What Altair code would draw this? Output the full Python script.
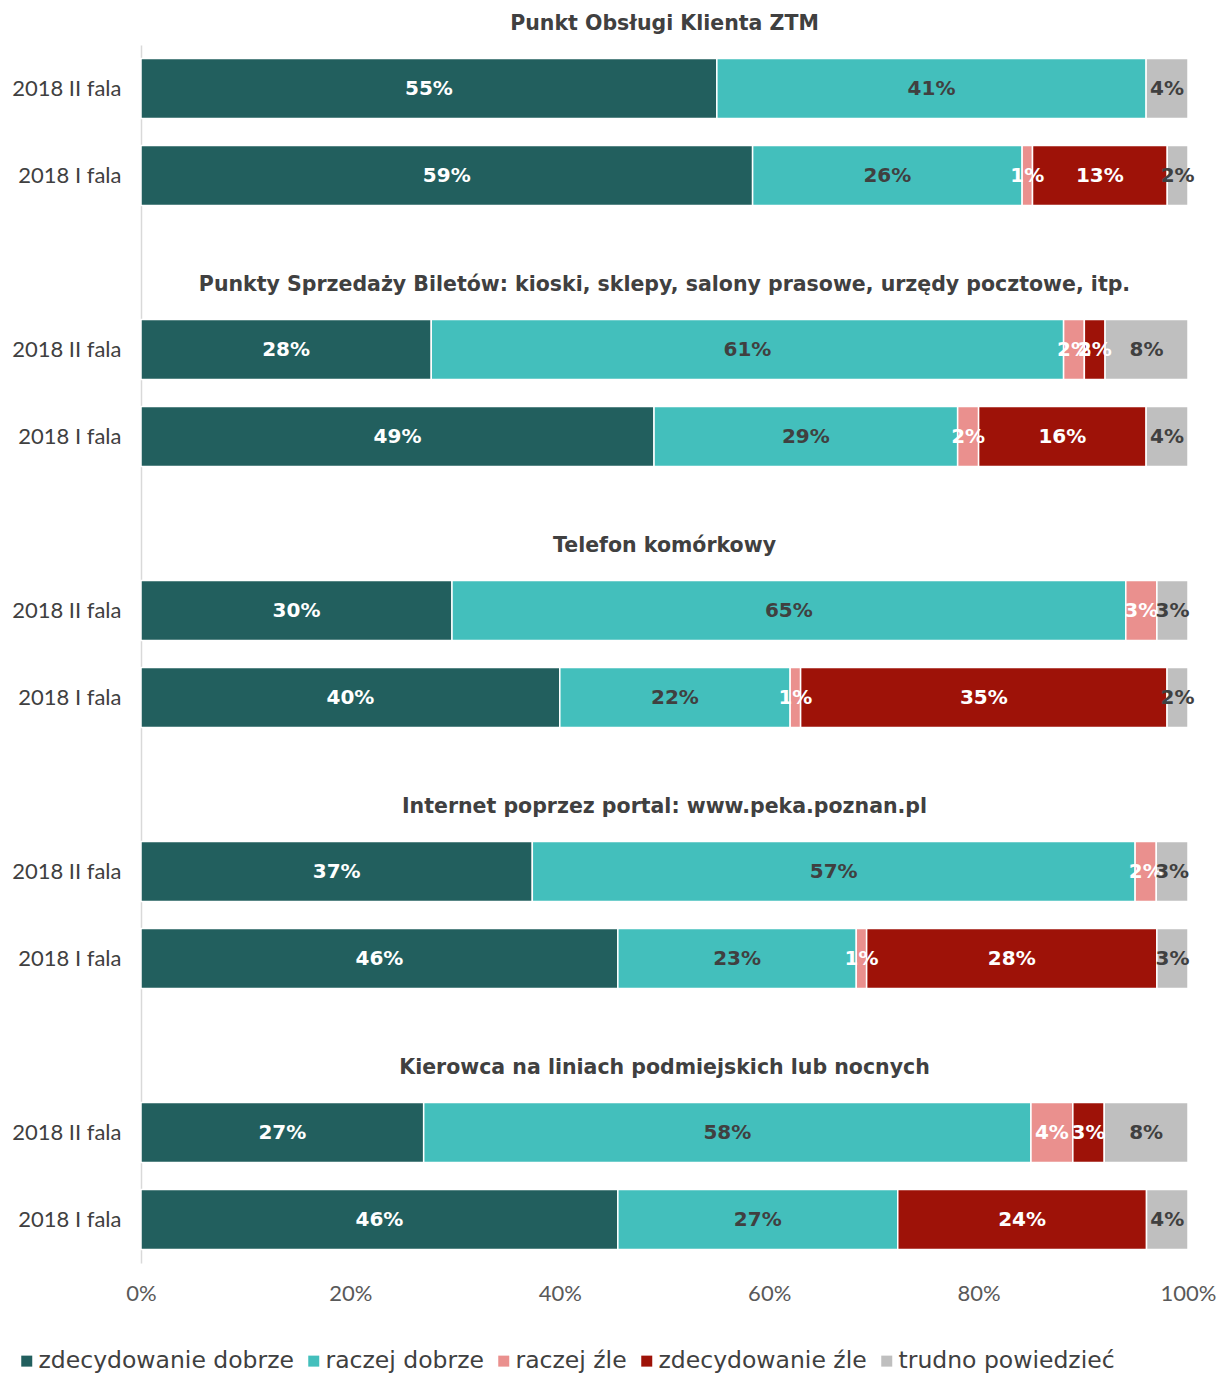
import altair as alt
import pandas as pd

groups = [
    "Punkt Obsługi Klienta ZTM",
    "Punkty Sprzedaży Biletów: kioski, sklepy, salony prasowe, urzędy pocztowe, itp.",
    "Telefon komórkowy",
    "Internet poprzez portal: www.peka.poznan.pl",
    "Kierowca na liniach podmiejskich lub nocnych",
]
waves = ["2018 II fala", "2018 I fala"]
categories = ["zdecydowanie dobrze", "raczej dobrze", "raczej źle", "zdecydowanie źle", "trudno powiedzieć"]
colors = ["#225F5E", "#43BFBC", "#EA908E", "#9E1208", "#BFBFBF"]
label_colors = ["#FFFFFF", "#404040", "#FFFFFF", "#FFFFFF", "#404040"]

# order of rows: group1 II, group1 I, group2 II, group2 I, ...
zdecydowanie_dobrze = [55, 59, 28, 49, 30, 40, 37, 46, 27, 46]
raczej_dobrze = [41, 26, 61, 29, 65, 22, 57, 23, 58, 27]
raczej_zle = [0, 1, 2, 2, 3, 1, 2, 1, 4, 0]
zdecydowanie_zle = [0, 13, 2, 16, 0, 35, 0, 28, 3, 24]
trudno_powiedziec = [4, 2, 8, 4, 3, 2, 3, 3, 8, 4]
series = [zdecydowanie_dobrze, raczej_dobrze, raczej_zle, zdecydowanie_zle, trudno_powiedziec]

FONT = "Lato"
BOLD_FONT = "DejaVu Sans"
LEGEND_FONT = "DejaVu Sans"

rows = []
for gi in range(len(groups)):
    for wi, w in enumerate(waves):
        idx = gi * 2 + wi
        key = f"{gi}|{w}"
        for ci, cat in enumerate(categories):
            v = series[ci][idx]
            if v > 0:
                rows.append({"row": key, "cat": cat, "order": ci, "value": v,
                             "label": f"{v}%", "lc": label_colors[ci]})
df = pd.DataFrame(rows)

domain = []
for gi in range(len(groups)):
    if gi > 0:
        domain.append(f"s{gi}|")
    for w in waves:
        domain.append(f"{gi}|{w}")

titles_df = pd.DataFrame({"row": [f"{gi}|{waves[0]}" for gi in range(len(groups))],
                          "title": groups})

yscale = alt.Scale(domain=domain, paddingInner=0.31, paddingOuter=0.155)
yenc = alt.Y("row:N", scale=yscale, sort=None,
             axis=alt.Axis(title=None, labelExpr="split(datum.label, '|')[1]",
                           ticks=False, domain=True, domainColor="#D9D9D9", domainWidth=1.5,
                           labelPadding=20, labelFont=FONT, labelFontSize=22,
                           labelColor="#404040", grid=False))

base = alt.Chart(df).transform_stack(
    stack="value", groupby=["row"], as_=["v0", "v1"], offset="normalize",
    sort=[alt.SortField("order", order="ascending")]
).transform_calculate(mid="(datum.v0 + datum.v1) / 2")

xscale = alt.Scale(domain=[0, 1], nice=False)

bars = base.mark_bar(stroke="white", strokeWidth=1.5).encode(
    x=alt.X("v0:Q", scale=xscale,
            axis=alt.Axis(title=None, format=".0%", values=[0, 0.2, 0.4, 0.6, 0.8, 1.0],
                          grid=False, domain=False, ticks=False, labelPadding=20,
                          labelFlush=False, labelBound=False,
                          labelFont=FONT, labelFontSize=22, labelColor="#595959")),
    x2="v1:Q",
    y=yenc,
    color=alt.Color("cat:N", scale=alt.Scale(domain=categories, range=colors),
                    sort=categories,
                    legend=alt.Legend(title=None, orient="none", direction="horizontal",
                                      legendX=-126, legendY=1304, padding=0,
                                      symbolType="square",
                                      symbolSize=121, symbolStrokeWidth=0,
                                      labelFont=LEGEND_FONT, labelFontSize=23.5,
                                      labelColor="#404040", labelLimit=0,
                                      labelOffset=0, columnPadding=8)),
)

texts = base.mark_text(font=BOLD_FONT, fontSize=20, fontWeight="bold", baseline="middle").encode(
    x=alt.X("mid:Q", scale=xscale),
    y=alt.Y("row:N", scale=yscale, sort=None),
    text="label:N",
    color=alt.Color("lc:N", scale=None),
)

titles = alt.Chart(titles_df).transform_calculate(xpos="0.5").mark_text(
    font=BOLD_FONT, fontSize=20.5, fontWeight="bold",
    color="#404040", baseline="middle", yOffset=-65).encode(
    x=alt.X("xpos:Q", scale=xscale),
    y=alt.Y("row:N", scale=yscale, sort=None),
    text="title:N",
)

chart = alt.layer(bars, texts, titles).properties(
    width=1047, height=1218,
    padding={"left": 11, "top": 13, "right": 5, "bottom": 5},
).configure(background="white").configure_view(stroke=None, strokeWidth=0)

chart.save("out.html", embed_options={"renderer": "svg", "actions": False})
